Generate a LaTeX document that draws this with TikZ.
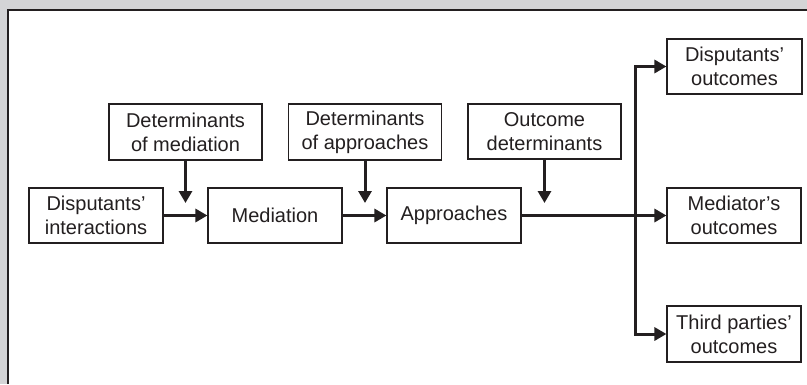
\documentclass[tikz,border=0pt]{standalone}
\usepackage{fontspec}
\setmainfont{Liberation Sans}
\usetikzlibrary{arrows.meta}
\definecolor{framegray}{HTML}{D4D4D6}
\definecolor{ink}{HTML}{231F20}
\tikzset{
  box/.style={draw=ink, line width=1.1pt, rectangle, align=center, inner sep=0pt,
    font=\fontsize{20}{24}\selectfont, text=ink, fill=white},
  flow/.style={draw=ink, line width=3pt, -{Triangle[length=12pt,width=13pt]}}
}
\begin{document}
\begin{tikzpicture}[x=1pt,y=-1pt]
\useasboundingbox (0,0) rectangle (807,384);
\fill[framegray] (0,0) rectangle (807,384);
\fill[white] (8,10) rectangle (807,384);
\draw[ink, line width=1.6pt] (8,384) -- (8,10) -- (807,10);

\node[box, minimum width=134pt, minimum height=55pt] (disp) at (96,215.5) {Disputants’\\interactions};
\node[box, minimum width=134pt, minimum height=55pt] (med) at (275,215.5) {Mediation};
\node[box, minimum width=134pt, minimum height=55pt] (app) at (454,215.5) {Approaches};
\node[box, minimum width=153pt, minimum height=56pt] (detmed) at (185.5,132) {Determinants\\of mediation};
\node[box, minimum width=153pt, minimum height=56pt] (detapp) at (365,132) {Determinants\\of approaches};
\node[box, minimum width=153pt, minimum height=55pt] (outdet) at (544.5,131.5) {Outcome\\determinants};
\node[box, minimum width=135pt, minimum height=55pt] (dout) at (734.5,66.5) {Disputants’\\outcomes};
\node[box, minimum width=134pt, minimum height=55pt] (mout) at (734,215.5) {Mediator’s\\outcomes};
\node[box, minimum width=134pt, minimum height=56pt] (tout) at (734,334) {Third parties’\\outcomes};

\coordinate (t1) at (detmed.south |- 0,203);
\coordinate (t2) at (detapp.south |- 0,203);
\coordinate (t3) at (outdet.south |- 0,203);
\coordinate (j) at (635,215.5);

\draw[flow] (disp.east) -- (med.west);
\draw[flow] (med.east) -- (app.west);
\draw[flow] (app.east) -- (mout.west);
\draw[flow] (detmed.south) -- (t1);
\draw[flow] (detapp.south) -- (t2);
\draw[flow] (outdet.south) -- (t3);
\draw[flow] (j) |- (dout.west);
\draw[flow] (j) |- (tout.west);
\end{tikzpicture}
\end{document}
